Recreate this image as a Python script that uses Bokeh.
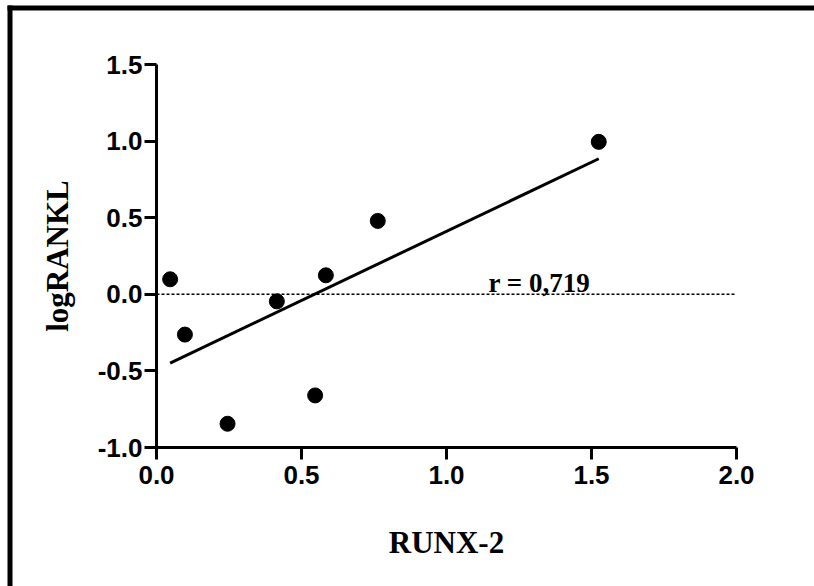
import numpy as np
from bokeh.plotting import figure
from bokeh.models import (Range1d, Label, FixedTicker, ColumnDataSource,
                          BoxAnnotation)
from bokeh.embed import file_html
from bokeh.resources import INLINE

# RUNX-2 expression vs logRANKL
runx2 = [0.047, 0.098, 0.245, 0.415, 0.547, 0.584, 0.763, 1.525]
log_rankl = [0.098, -0.263, -0.845, -0.046, -0.660, 0.124, 0.479, 0.995]
x_ticks = [0.0, 0.5, 1.0, 1.5, 2.0]
y_ticks = [-1.0, -0.5, 0.0, 0.5, 1.0, 1.5]
r_text = "r = 0,719"

# canvas geometry: the data box (0..2, -1..1.5) sits at these pixel edges,
# and the frame is stretched over the whole canvas so the page rule can be drawn
PAGE_W, PAGE_H = 814, 586
X_LO, X_HI = x_ticks[0], x_ticks[-1]
Y_LO, Y_HI = y_ticks[0], y_ticks[-1]
PX_XLO, PX_XHI, PX_YHI, PX_YLO = 156, 736, 64, 447
sx = (PX_XHI - PX_XLO) / (X_HI - X_LO)
sy = (PX_YLO - PX_YHI) / (Y_HI - Y_LO)
x_start, x_end = X_LO - PX_XLO / sx, X_HI + (PAGE_W - PX_XHI) / sx
y_start, y_end = Y_LO - (PAGE_H - PX_YLO) / sy, Y_HI + PX_YHI / sy


def px_x(px):
    return x_start + px / sx


def px_y(py):
    return y_end - py / sy


p = figure(width=PAGE_W, height=PAGE_H, output_backend="svg", toolbar_location=None,
           x_range=Range1d(x_start, x_end), y_range=Range1d(y_start, y_end),
           min_border=0, min_border_left=0, min_border_right=0,
           min_border_top=0, min_border_bottom=0)
p.outline_line_color = None
p.grid.visible = False
p.background_fill_color = "white"
p.border_fill_color = "white"

# thick black rule along the top and left edges of the page
p.add_layout(BoxAnnotation(left=px_x(7), right=px_x(12), top=px_y(5),
                           fill_color="black", fill_alpha=1, line_alpha=0))
p.add_layout(BoxAnnotation(left=px_x(7), top=px_y(5), bottom=px_y(10),
                           fill_color="black", fill_alpha=1, line_alpha=0))

# dotted zero reference across the axis span
p.segment(x0=[X_LO], x1=[X_HI], y0=[0], y1=[0], line_color="black",
          line_width=1.5, line_dash="3 2")

# least-squares fit through the points, drawn across the observed x span
slope, intercept = np.polyfit(runx2, log_rankl, 1)
fx = np.array([min(runx2), max(runx2)])
p.line(fx, slope * fx + intercept, line_color="black", line_width=3)

p.scatter(x="x", y="y", source=ColumnDataSource(dict(x=runx2, y=log_rankl)),
          size=15, fill_color="black", line_color="black")

p.add_layout(Label(x=1.145, y=0.072, text=r_text, text_font="Liberation Serif",
                   text_font_style="bold", text_font_size="27px",
                   text_baseline="alphabetic", text_color="black"))

# axes pinned to the data box instead of the frame edges
p.xaxis.fixed_location = Y_LO
p.yaxis.fixed_location = X_LO
p.xaxis.bounds = (X_LO, X_HI)
p.yaxis.bounds = (Y_LO, Y_HI)

for ax, ticks in ((p.xaxis, x_ticks), (p.yaxis, y_ticks)):
    ax.ticker = FixedTicker(ticks=ticks)
    ax.minor_tick_line_color = None
    ax.axis_line_width = 3
    ax.major_tick_line_width = 3
    ax.major_tick_out = 12
    ax.major_tick_in = 0
    ax.axis_line_color = "black"
    ax.major_tick_line_color = "black"
    ax.major_label_text_font = "Liberation Sans"
    ax.major_label_text_font_style = "bold"
    ax.major_label_text_font_size = "26px"
    ax.major_label_text_color = "black"
    ax.axis_label_text_font = "Liberation Serif"
    ax.axis_label_text_font_style = "bold"
    ax.axis_label_text_font_size = "31px"
    ax.axis_label_text_color = "black"

p.xaxis.major_label_overrides = {t: f"{t:.1f}" for t in x_ticks}
p.yaxis.major_label_overrides = {t: f"{t:.1f}" for t in y_ticks}
p.xaxis.axis_label = "RUNX-2"
p.yaxis.axis_label = "logRANKL"
p.xaxis.major_label_standoff = 6
p.yaxis.major_label_standoff = 2
p.xaxis.axis_label_standoff = 38
p.yaxis.axis_label_standoff = 20

open("out.html", "w").write(file_html(p, INLINE))
